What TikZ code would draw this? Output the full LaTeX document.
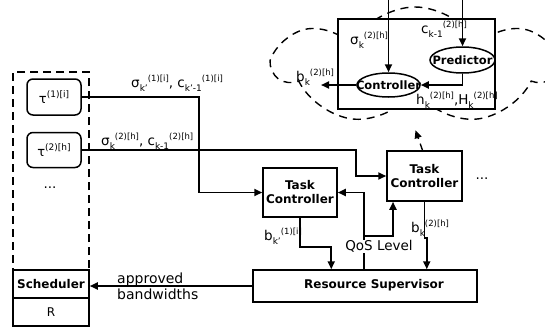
\documentclass[tikz,border=0pt]{standalone}
\usepackage{fontspec}
\setmainfont{DejaVu Sans}
\usetikzlibrary{arrows.meta,shapes.geometric,shapes.symbols,calc}
\newcommand\lab[3]{#1\raisebox{-4pt}{\fontsize{9}{9}\selectfont #2}\raisebox{6pt}{\fontsize{8.5}{9}\selectfont #3}}
\begin{document}
\begin{tikzpicture}[x=1pt,y=-1pt,
  box/.style={draw,line width=1.5pt,fill=white,inner sep=0pt,font=\fontsize{12}{14}\selectfont\bfseries,align=center},
  rbox/.style={box,rounded corners=6pt,font=\fontsize{13}{15}\selectfont\mdseries},
  ell/.style={draw,ellipse,line width=1.5pt,inner sep=0pt,fill=white},
  elltxt/.style={font=\fontsize{11.5}{13}\selectfont\bfseries},
  conn/.style={line width=1.9pt,-{Triangle[length=8pt,width=7pt]}},
  dconn/.style={line width=1.4pt,dash pattern=on 7pt off 5pt,-{Triangle[length=8pt,width=7pt]}},
  txt/.style={inner sep=0pt,font=\fontsize{13.5}{15}\selectfont},
  every node/.style={inner sep=0pt}]
\useasboundingbox (0,0) rectangle (545,327);
\fill[white] (0,0) rectangle (545,327);

% cloud
\node[cloud,draw,line width=1.4pt,dash pattern=on 8pt off 6pt,cloud puffs=7,cloud puff arc=120,cloud ignores aspect,minimum width=280,minimum height=118] (cloud) at (415,66) {};

% inner box
\node[box,minimum width=157,minimum height=90] (inbox) at (416.5,64) {};
\node[ell,minimum width=63,minimum height=24,label={[elltxt]center:Controller}] (ctrl) at (388.5,85) {};
\node[ell,minimum width=65,minimum height=26,label={[elltxt]center:Predictor}] (pred) at (462.5,60) {};
\coordinate (ctop) at (388.5,-2);
\coordinate (ptop) at (462.5,-2);
\coordinate (bout) at (321,85);
\draw[conn] (ctop) -- (ctrl.north);
\draw[conn] (ptop) -- (pred.north);
\draw[conn] (pred.south) |- (ctrl.east);
\draw[conn] (ctrl.west) -- (bout);
\node[txt,anchor=base west] (ls) at (350,44) {\lab{σ}{k}{(2)[h]}};
\node[txt,anchor=base west] (lc) at (421,33) {\lab{c}{k-1}{(2)[h]}};
\node[txt,anchor=base west] (lb) at (296,81) {\lab{b}{k}{(2)[h]}};
\node[txt,anchor=base west] (lh) at (416,104) {\lab{h}{k}{(2)[h]},\lab{H}{k}{(2)[h]}};

% left group
\node[draw,line width=1.5pt,dash pattern=on 8pt off 5pt,minimum width=76,minimum height=198] (grp) at (51,171) {};
\node[rbox,minimum width=54,minimum height=36] (tau1) at (54,97) {τ\raisebox{6pt}{\fontsize{9}{9}\selectfont(1)[i]}};
\node[rbox,minimum width=54,minimum height=35] (tau2) at (54,150) {τ\raisebox{6pt}{\fontsize{9}{9}\selectfont(2)[h]}};
\node[txt] (dots1) at (50,188) {...};
\node[box,minimum width=76,minimum height=28] (sched) at (51,284) {Scheduler};
\node[box,minimum width=76,minimum height=28,font=\fontsize{12}{14}\selectfont] (rr) at (51,312) {R};

% task controllers
\node[box,minimum width=74,minimum height=49] (tc1) at (300,192.5) {Task\\Controller};
\node[box,minimum width=75,minimum height=50] (tc2) at (424.5,176) {Task\\Controller};
\node[txt] (dots2) at (482,179) {...};
\node[box,minimum width=224,minimum height=32] (rs) at (365,286) {};
\node[font=\fontsize{12}{14}\selectfont\bfseries] (rslab) at (374,285) {Resource Supervisor};

% connectors
\draw[conn] (tau1.east) -- ++(117,0) |- (tc1.west);
\draw[conn] (tau2.east) -- ++(274,0) |- (tc2.west);
\draw[conn] (tc1.south) -- ++(0,29) -| ([xshift=79pt]rs.north west);
\draw[conn] ([xshift=112pt]rs.north west) |- (tc1.east);
\draw[conn] ([xshift=112pt,yshift=33pt]rs.north west) -| ([xshift=-31.5pt]tc2.south);
\draw[conn] (tc2.south) -- ++(0,36) -| ([xshift=174.5pt]rs.north west);
\draw[conn] (rs.west) -- (sched.east |- rs.west);
\draw[dconn] ([xshift=-2pt]tc2.north) -- ++(-7,-20);

% labels
\node[txt,anchor=base west] (l1) at (131,87) {\lab{σ}{k'}{(1)[i]}, \lab{c}{k'-1}{(1)[i]}};
\node[txt,anchor=base west] (l2) at (101,145) {\lab{σ}{k}{(2)[h]}, \lab{c}{k-1}{(2)[h]}};
\node[txt,anchor=base west] (l3) at (264,240) {\lab{b}{k'}{(1)[i]}};
\node[txt,anchor=base west] (l4) at (411,232) {\lab{b}{k}{(2)[h]}};
\node[txt,fill=white,inner sep=0.5pt] (qos) at (379,246) {QoS Level};
\node[txt,align=left,anchor=west,font=\fontsize{14}{16}\selectfont] (appr) at (117,286) {approved\\bandwidths};
\end{tikzpicture}
\end{document}
